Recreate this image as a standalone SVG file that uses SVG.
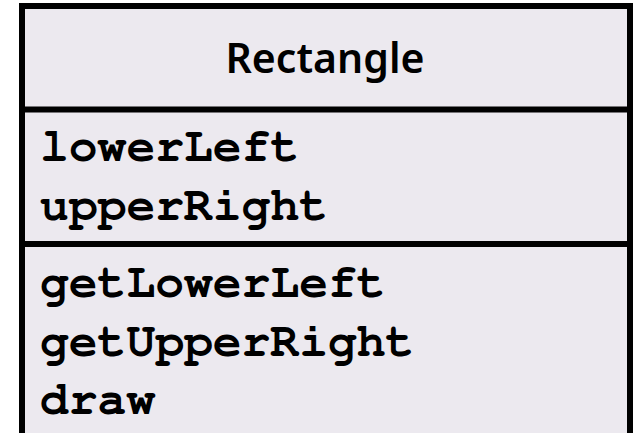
<svg xmlns="http://www.w3.org/2000/svg" width="641" height="433" viewBox="0 0 641 433">
<style>
.box{fill:#ECE9EF;stroke:#000;stroke-width:6}
.div{stroke:#000;stroke-width:6}
.title{font-family:"Noto Sans","Open Sans",sans-serif;font-weight:600;font-size:41px;fill:#000;text-anchor:middle}
.mono{font-family:"Nimbus Mono PS","FreeMono","Courier New","Liberation Mono",monospace;font-weight:bold;font-size:48px;fill:#000}
</style>
<rect width="641" height="433" fill="#fff"/>
<g id="class-Rectangle">
<rect class="box" x="22" y="6" width="608" height="500"/>
<line class="div" x1="22" y1="109.5" x2="630" y2="109.5"/>
<line class="div" x1="22" y1="244" x2="630" y2="244"/>
<text class="title" x="325" y="73">Rectangle</text>
<text class="mono" x="40" y="161">lowerLeft</text>
<text class="mono" x="40" y="219.5">upperRight</text>
<text class="mono" x="40" y="297">getLowerLeft</text>
<text class="mono" x="40" y="355.5">getUpperRight</text>
<text class="mono" x="40" y="414">draw</text>
</g>
<g id="connectors"/>
</svg>
